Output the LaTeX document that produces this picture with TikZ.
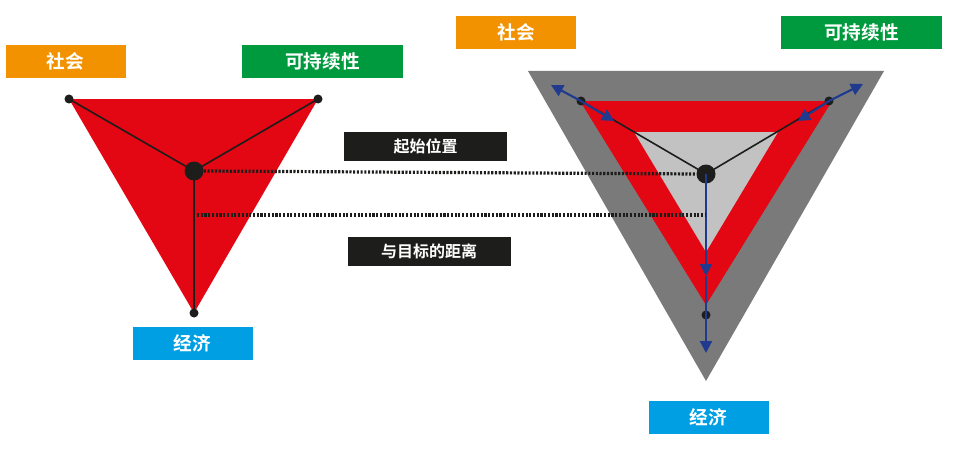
\documentclass[tikz,border=0pt]{standalone}
\usepackage{fontspec}
\newfontfamily\cjk{Noto Sans CJK SC}[BoldFont={Noto Sans CJK SC Bold}]
\usetikzlibrary{arrows.meta}
\definecolor{cred}{HTML}{E30613}
\definecolor{corange}{HTML}{F39200}
\definecolor{cgreen}{HTML}{009A3E}
\definecolor{cblue}{HTML}{009FE3}
\definecolor{cgray}{HTML}{7A7A7A}
\definecolor{clgray}{HTML}{C2C2C2}
\definecolor{cdblue}{HTML}{1F3A8F}
\definecolor{cblack}{HTML}{1D1D1B}
\tikzset{
 lab/.style={minimum width=120\pxu, minimum height=33\pxu, inner sep=0pt, text=white, font=\cjk\bfseries\fontsize{14}{16}\selectfont},
 blab/.style={fill=cblack, minimum width=163\pxu, minimum height=29\pxu, inner sep=0pt, text=white, font=\cjk\bfseries\fontsize{12}{14}\selectfont},
 dotn/.style={circle, fill=cblack, inner sep=0pt, minimum size=9\pxu},
 bigdot/.style={circle, fill=cblack, inner sep=0pt, minimum size=19\pxu},
 ln/.style={draw=cblack, line width=1.2pt},
 dots/.style={draw=cblack, line width=2.4pt, dash pattern=on 1.6pt off 1.2pt},
 barr/.style={draw=cdblue, line width=1.6pt, -{Triangle[length=9pt,width=9pt]}}
}
\newlength\pxu \setlength\pxu{0.75pt}
\begin{document}
\begin{tikzpicture}[x=0.75pt,y=-0.75pt]
\useasboundingbox (0,0) rectangle (967,453);
% left
\fill[cred] (69,99) -- (318,99) -- (194,313) -- cycle;
\node[dotn] (la) at (69,99) {};
\node[dotn] (lb) at (318,99) {};
\node[dotn] (lc) at (194,313) {};
\node[bigdot] (lo) at (194,171) {};
\draw[ln] (lo.center) -- (la.center) (lo.center) -- (lb.center) (lo.center) -- (lc.center);
\node[lab, fill=corange] (ls) at (65.5,61.5) {社会};
\node[lab, fill=cgreen, minimum width=161\pxu] (lg) at (322.5,61.5) {可持续性};
\node[lab, fill=cblue] (le) at (192.5,343.5) {经济};
% right
\fill[cgray] (528,71) -- (884,71) -- (706,381) -- cycle;
\fill[cred] (580,101) -- (832,101) -- (706,305) -- cycle;
\fill[clgray] (634,132) -- (778,132) -- (706,252) -- cycle;
\node[dotn] (ra) at (581,101) {};
\node[dotn] (rb) at (829,101) {};
\node[dotn] (rc) at (706,315) {};
\node[bigdot] (ro) at (706,174) {};
\draw[ln] (ro.center) -- (ra.center) (ro.center) -- (rb.center);
\coordinate (a1) at (551,85); \coordinate (a2) at (614,121);
\coordinate (b1) at (863,84); \coordinate (b2) at (798,121);
\coordinate (c1) at (706,276); \coordinate (c2) at (706,353);
\draw[barr] (ra.center) -- (a1);
\draw[barr] (ra.center) -- (a2);
\draw[barr] (rb.center) -- (b1);
\draw[barr] (rb.center) -- (b2);
\draw[barr] (ro.center) -- (c1);
\draw[barr] (c1) -- (c2);
\node[lab, fill=corange] (rs) at (516,32.5) {社会};
\node[lab, fill=cgreen, minimum width=161\pxu] (rg) at (861.5,32.5) {可持续性};
\node[lab, fill=cblue] (re) at (708.5,417.5) {经济};
% connectors
\coordinate (d1) at (197,215); \coordinate (d2) at (706,215);
\draw[dots] (lo.east) -- (ro.west);
\draw[dots] (d1) -- (d2);
\node[blab] (t1) at (425.5,146.5) {起始位置};
\node[blab] (t2) at (429,251.5) {与目标的距离};
\end{tikzpicture}
\end{document}
